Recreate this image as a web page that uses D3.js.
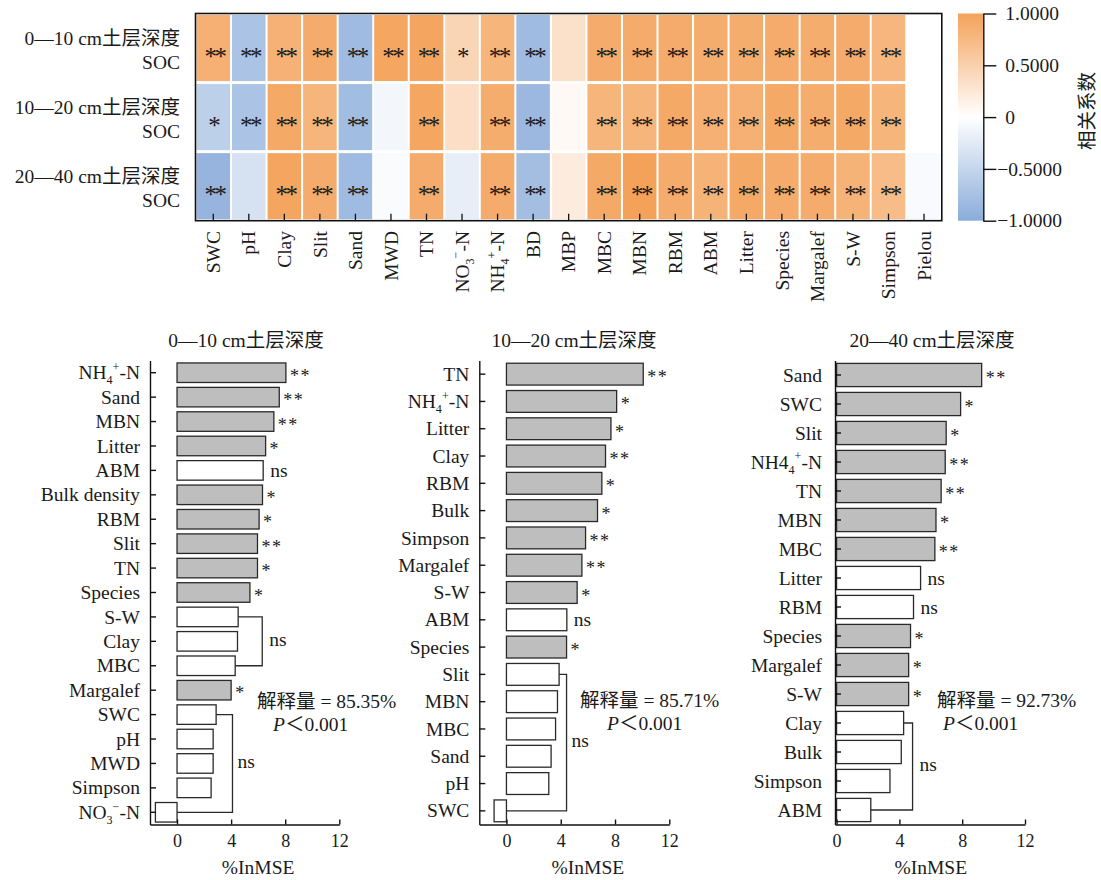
<!DOCTYPE html>
<html><head><meta charset="utf-8">
<script src="https://cdn.jsdelivr.net/npm/d3@7"></script>
<style>
body{margin:0;background:#fff}
svg{display:block}
text{font-family:"Liberation Serif","Times New Roman","Noto Sans CJK SC",serif;fill:#1a1a1a}
</style>
</head><body>
<svg id="c" width="1101" height="880"></svg>
<script>
// ---------------- DATA ----------------
const hmCols = ["SWC","pH","Clay","Slit","Sand","MWD","TN","NO_3^−-N","NH_4^+-N","BD","MBP","MBC","MBN","RBM","ABM","Litter","Species","Margalef","S-W","Simpson","Pielou"];
const hmRowTitles = ["0—10 cm土层深度","10—20 cm土层深度","20—40 cm土层深度"];
const hmRowVar = "SOC";
const corr0_10  = [0.85,-0.72,0.83,0.90,-0.82,0.95,0.96,0.45,0.80,-0.82,0.32,0.90,0.90,0.90,0.88,0.88,0.90,0.88,0.90,0.78,0.00];
const corr10_20 = [-0.57,-0.72,0.92,0.80,-0.80,-0.10,0.95,0.35,0.88,-0.85,0.06,0.80,0.80,0.93,0.85,0.85,0.92,0.88,0.92,0.80,0.00];
const corr20_40 = [-0.90,-0.35,0.97,0.90,-0.82,-0.05,0.90,-0.20,0.90,-0.78,0.20,0.92,1.00,0.90,0.82,0.92,0.90,0.90,0.82,0.72,-0.06];
const sig0_10  = ["**","**","**","**","**","**","**","*","**","**","","**","**","**","**","**","**","**","**","**",""];
const sig10_20 = ["*","**","**","**","**","","**","","**","**","","**","**","**","**","**","**","**","**","**",""];
const sig20_40 = ["**","","**","**","**","","**","","**","**","","**","**","**","**","**","**","**","**","**",""];
const cbTicks = [1, 0.5, 0, -0.5, -1];
const cbTickLabels = ["1.0000","0.5000","0","−0.5000","−1.0000"];
const cbTitle = "相关系数";

const p1Vars = ["NH_4^+-N","Sand","MBN","Litter","ABM","Bulk density","RBM","Slit","TN","Species","S-W","Clay","MBC","Margalef","SWC","pH","MWD","Simpson","NO_3^−-N"];
const p1Vals = [8.05,7.56,7.16,6.55,6.37,6.32,6.07,5.95,5.95,5.39,4.52,4.47,4.30,4.00,2.89,2.67,2.67,2.52,-1.6];
const p1Sig  = ["**","**","**","*","ns","*","*","**","*","*","","","","*","","","","",""];
const p2Vars = ["TN","NH_4^+-N","Litter","Clay","RBM","Bulk","Simpson","Margalef","S-W","ABM","Species","Slit","MBN","MBC","Sand","pH","SWC"];
const p2Vals = [10.08,8.12,7.70,7.30,7.03,6.71,5.83,5.56,5.21,4.45,4.43,3.88,3.76,3.62,3.29,3.12,-0.91];
const p2Sig  = ["**","*","*","**","*","*","**","**","*","ns","*","","","","","",""];
const p3Vars = ["Sand","SWC","Slit","NH4_4^+-N","TN","MBN","MBC","Litter","RBM","Species","Margalef","S-W","Clay","Bulk","Simpson","ABM"];
const p3Vals = [9.24,7.90,6.98,6.92,6.66,6.33,6.26,5.35,4.90,4.71,4.59,4.59,4.27,4.12,3.40,2.18];
const p3Sig  = ["**","*","*","**","**","*","**","ns","ns","*","*","*","","","",""];
const panelTitles = ["0—10 cm土层深度","10—20 cm土层深度","20—40 cm土层深度"];
const explained = ["85.35%","85.71%","92.73%"];
const pText = "0.001";
const xTicks = [0,4,8,12];
const xTitle = "%InMSE";

// ---------------- HELPERS ----------------
const svg = d3.select("#c");
const FS = 19.5;
const ORANGE = "#F4A25A", BLUE = "#8AACDA";
const color = d3.scaleLinear().domain([-1,0,1]).range([BLUE,"#ffffff",ORANGE]);

function rich(textSel, str, fs){
  const parts=[]; let buf="";
  for(let i=0;i<str.length;i++){
    const c=str[i];
    if((c==="_"||c==="^") && i+1<str.length){
      if(buf){parts.push({t:buf,k:0});buf="";}
      parts.push({t:str[i+1],k:c==="_"?1:-1}); i++;
    } else buf+=c;
  }
  if(buf) parts.push({t:buf,k:0});
  let cur=0;
  parts.forEach(p=>{
    const off = p.k===1 ? 0.25*fs : p.k===-1 ? -0.42*fs : 0;
    const ts = textSel.append("tspan").text(p.t);
    if(p.k!==0) ts.attr("font-size", fs*0.62);
    if(off!==cur){ ts.attr("dy", off-cur); cur=off; }
  });
}

// ---------------- HEATMAP ----------------
const hm = {left:195.5,right:941.8,top:13.5,bottom:220.7};
const xH = d3.scaleBand().domain(hmCols).range([hm.left,hm.right]);
const yH = d3.scaleBand().domain(d3.range(hmRowTitles.length)).range([hm.top,hm.bottom]);
const corrRows = [corr0_10,corr10_20,corr20_40];
const sigRows = [sig0_10,sig10_20,sig20_40];
const gH = svg.append("g");
corrRows.forEach((row,r)=>{
  gH.selectAll(null).data(row).enter().append("rect")
    .attr("x",(d,j)=>xH(hmCols[j])+1)
    .attr("y",yH(r)+1.5)
    .attr("width",xH.bandwidth()-2)
    .attr("height",yH.bandwidth()-3)
    .attr("fill",d=>color(d));
  gH.selectAll(null).data(sigRows[r]).enter().append("text")
    .attr("x",(d,j)=>xH(hmCols[j])+xH.bandwidth()/2)
    .attr("y",yH(r)+yH.bandwidth()/2+17)
    .attr("text-anchor","middle")
    .attr("font-size",25)
    .attr("letter-spacing",-2.5)
    .attr("dx",d=>d.length>1?1.25:0)
    .text(d=>d);
  const rc = yH(r)+yH.bandwidth()/2;
  gH.append("text").attr("x",180).attr("y",rc-2.7).attr("text-anchor","end").attr("font-size",FS).text(hmRowTitles[r]);
  gH.append("text").attr("x",180).attr("y",rc+20.5).attr("text-anchor","end").attr("font-size",FS).text(hmRowVar);
});
// inward ticks at bottom
const axH = gH.append("g").attr("transform",`translate(0,${hm.bottom})`)
  .call(d3.axisBottom(xH).tickSizeInner(-7).tickSizeOuter(0).tickFormat(""));
axH.select(".domain").remove();
axH.selectAll("line").attr("stroke","#111").attr("stroke-width",1.3);
gH.append("rect").attr("x",hm.left).attr("y",hm.top).attr("width",hm.right-hm.left).attr("height",hm.bottom-hm.top)
  .attr("fill","none").attr("stroke","#111").attr("stroke-width",1.6);
// rotated column labels
hmCols.forEach(c=>{
  const t = gH.append("text")
    .attr("transform",`translate(${xH(c)+xH.bandwidth()/2},231) rotate(-90)`)
    .attr("text-anchor","end").attr("y",0.34*FS).attr("font-size",FS);
  rich(t,c,FS);
});

// colorbar
const cb = {x0:958,x1:983.3,top:13.5,bottom:220.7};
const cbScale = d3.scaleLinear().domain([-1,1]).range([cb.bottom,cb.top]);
const defs = svg.append("defs");
const grad = defs.append("linearGradient").attr("id","cbg").attr("x1",0).attr("y1",1).attr("x2",0).attr("y2",0);
[-1,0,1].forEach(v=>grad.append("stop").attr("offset",(v+1)/2).attr("stop-color",color(v)));
svg.append("rect").attr("x",cb.x0).attr("y",cb.top).attr("width",cb.x1-cb.x0).attr("height",cb.bottom-cb.top).attr("fill","url(#cbg)");
const cbAx = svg.append("g").attr("transform",`translate(${cb.x1},0)`)
  .call(d3.axisRight(cbScale).tickValues(cbTicks).tickSizeInner(13).tickSizeOuter(0).tickPadding(9)
    .tickFormat((d,i)=>cbTickLabels[i]));
cbAx.selectAll("text").attr("font-size",FS).attr("font-family",null).attr("fill","#1a1a1a")
  .attr("dx",d=>d<0?-8:0);
cbAx.selectAll("line,path").attr("stroke","#111").attr("stroke-width",1.4);
svg.append("text").attr("transform",`translate(1087,111) rotate(-90)`).attr("text-anchor","middle")
  .attr("dy","0.35em").attr("font-size",FS).text(cbTitle);

// ---------------- BAR PANELS ----------------
const panels = [
  {vars:p1Vars,vals:p1Vals,sig:p1Sig,dom:[-2,12],rng:[150,339.3],titleX:246,pad:10,
   annX:257,annY:701,pX:273,pY:724,
   groups:[{from:"S-W",to:"MBC",at:6.3,dx:7},{from:"SWC",to:"NO_3^−-N",at:4.1,dx:5}]},
  {vars:p2Vars,vals:p2Vals,sig:p2Sig,dom:[-2,12],rng:[479.3,669.3],titleX:574,pad:10,
   annX:580,annY:700,pX:607,pY:723,
   groups:[{from:"Slit",to:"SWC",at:4.43,dx:5}]},
  {vars:p3Vars,vals:p3Vals,sig:p3Sig,dom:[-0.1,12],rng:[835,1025],titleX:932,pad:13,
   annX:937,annY:700,pX:943,pY:723,
   groups:[{from:"Clay",to:"ABM",at:4.84,dx:7}]}
];
const yTop=360.5, yBot=824.5;
panels.forEach((P,pi)=>{
  const g = svg.append("g");
  const x = d3.scaleLinear().domain(P.dom).range(P.rng);
  const y = d3.scaleBand().domain(P.vars).range([yTop,yBot]).paddingInner(0.2).paddingOuter(0.1);
  const yc = v=>y(v)+y.bandwidth()/2;
  const x0 = x(0);
  // bars
  g.selectAll(null).data(P.vals).enter().append("rect")
    .attr("x",d=>Math.min(x(d),x0)).attr("y",(d,i)=>y(P.vars[i]))
    .attr("width",d=>Math.abs(x(d)-x0)).attr("height",y.bandwidth())
    .attr("fill",(d,i)=>P.sig[i].includes("*")?"#BEBEBE":"#ffffff")
    .attr("stroke","#2a2a2a").attr("stroke-width",1.3);
  // significance
  g.selectAll(null).data(P.sig).enter().append("text")
    .attr("x",(d,i)=>Math.max(x(P.vals[i]),x0)+(d==="ns"?7:4))
    .attr("y",(d,i)=>yc(P.vars[i])+(d==="ns"?6.5:9))
    .attr("font-size",d=>d==="ns"?FS:18)
    .attr("letter-spacing",d=>d==="ns"?0:1.5)
    .attr("fill",d=>d==="ns"?"#1a1a1a":"#333")
    .text(d=>d);
  // brackets
  P.groups.forEach(G=>{
    const i0=P.vars.indexOf(G.from), i1=P.vars.indexOf(G.to);
    const bx=x(G.at), ya=yc(G.from), yb=yc(G.to);
    const xa=Math.max(x(P.vals[i0]),x0), xb=Math.max(x(P.vals[i1]),x0);
    g.append("path").attr("d",`M${xa},${ya}H${bx}V${yb}H${xb}`)
      .attr("fill","none").attr("stroke","#2a2a2a").attr("stroke-width",1.3);
    g.append("text").attr("x",bx+G.dx).attr("y",(ya+yb)/2+4.5).attr("font-size",FS).text("ns");
  });
  // axes
  const ax = g.append("g").attr("transform",`translate(0,${yBot})`)
    .call(d3.axisBottom(x).tickValues(xTicks).tickSizeInner(-5).tickSizeOuter(0).tickPadding(10));
  ax.selectAll("text").attr("font-size",18).attr("font-family",null).attr("fill","#1a1a1a");
  const ay = g.append("g").attr("transform",`translate(${P.rng[0]},0)`)
    .call(d3.axisLeft(y).tickSizeInner(-6).tickSizeOuter(0).tickFormat(""));
  [ax,ay].forEach(a=>a.selectAll("line,path").attr("stroke","#111").attr("stroke-width",1.4));
  P.vars.forEach(v=>{
    const t=g.append("text").attr("x",P.rng[0]-P.pad).attr("y",yc(v)+0.34*FS)
      .attr("text-anchor","end").attr("font-size",FS);
    rich(t,v,FS);
  });
  // title & x label
  g.append("text").attr("x",P.titleX).attr("y",347).attr("text-anchor","middle").attr("font-size",FS).text(panelTitles[pi]);
  g.append("text").attr("x",(x0+x(12))/2).attr("y",874).attr("text-anchor","middle").attr("font-size",FS).text(xTitle);
  // annotation
  g.append("text").attr("x",P.annX).attr("y",P.annY+7).attr("font-size",FS).text("解释量 = "+explained[pi]);
  const pt=g.append("text").attr("x",P.pX).attr("y",P.pY+7).attr("font-size",FS);
  pt.append("tspan").attr("font-style","italic").text("P");
  pt.append("tspan").text("＜"+pText);
});
</script>
</body></html>
